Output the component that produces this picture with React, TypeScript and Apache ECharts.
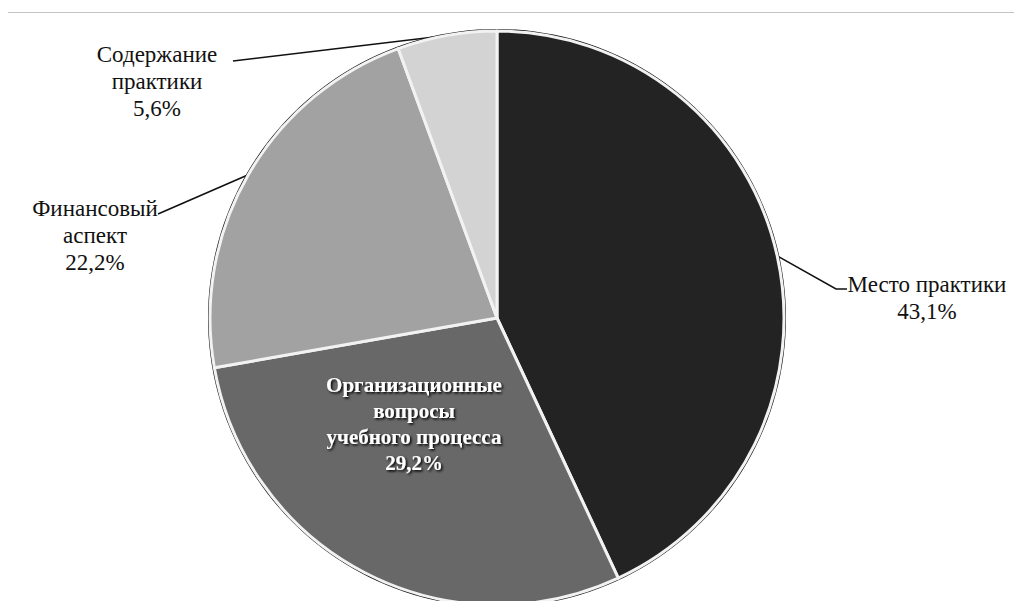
import React, { useEffect, useRef } from "react";
import * as echarts from "echarts";

const categories = [
  "Место практики",
  "Организационные\nвопросы\nучебного процесса",
  "Финансовый\nаспект",
  "Содержание\nпрактики",
];
const values = [43.1, 29.2, 22.2, 5.6];
const valueLabels = ["43,1%", "29,2%", "22,2%", "5,6%"];
const colors = ["#232323", "#686868", "#a2a2a2", "#d3d3d3"];

export default function App() {
  const ref = useRef<HTMLDivElement>(null);
  useEffect(() => {
    if (!ref.current) return;
    const chart = echarts.init(ref.current, undefined, { renderer: "svg" });
    const font = "Times New Roman, Liberation Serif, DejaVu Serif, serif";
    const layouts: any[] = [
      { x: 927, y: 271, align: "center", bend: [836, 289], end: [847, 289] },
      { x: 414, y: 424, align: "center", inside: true },
      { x: 95, y: 195, align: "center", bend: [158, 214], end: [158, 214] },
      { x: 157, y: 41, align: "center", bend: [233, 61], end: [233, 61] },
    ];
    chart.setOption({
      animation: false,
      backgroundColor: "#ffffff",
      textStyle: { fontFamily: font },
      graphic: [
        {
          type: "line",
          shape: { x1: 8, y1: 12.5, x2: 1014, y2: 12.5 },
          style: { stroke: "#c4c4c4", lineWidth: 1 },
        },
      ],
      series: [
        {
          type: "pie",
          center: [497, 318],
          radius: [0, 289],
          silent: true,
          label: { show: false },
          labelLine: { show: false },
          itemStyle: { color: "#111" },
          data: [{ value: 1, name: "rim" }],
        },
        {
          type: "pie",
          center: [497, 318],
          radius: [0, 287],
          startAngle: 90,
          clockwise: true,
          avoidLabelOverlap: false,
          itemStyle: { borderColor: "#f2f2f2", borderWidth: 3 },
          data: values.map((v, i) => ({
            value: v,
            name: categories[i],
            itemStyle: { color: colors[i] },
            label:
              i === 1
                ? {
                    show: true,
                    position: "inside",
                    formatter: categories[i] + "\n" + valueLabels[i],
                    color: "#ffffff",
                    fontFamily: font,
                    fontWeight: "bold",
                    fontSize: 21,
                    lineHeight: 26,
                    align: "center",
                    textShadowColor: "#000",
                    textShadowBlur: 2,
                    textShadowOffsetX: 1.5,
                    textShadowOffsetY: 1.5,
                  }
                : {
                    show: true,
                    position: "outside",
                    formatter: categories[i] + "\n" + valueLabels[i],
                    color: "#111",
                    fontFamily: font,
                    fontSize: 23,
                    lineHeight: 27,
                    align: "center",
                  },
            labelLine: i === 1 ? { show: false } : { show: true, lineStyle: { color: "#111", width: 1.6 } },
          })),
          labelLayout: (params: any) => {
            const l = layouts[params.dataIndex];
            if (!l) return {};
            const res: any = {
              x: l.x,
              y: l.y,
              align: l.align,
              verticalAlign: l.inside ? "middle" : "top",
            };
            if (!l.inside && params.labelLinePoints) {
              const p0 = params.labelLinePoints[0];
              res.labelLinePoints = [p0, l.bend, l.end];
            }
            return res;
          },
        },
      ],
    });
    return () => chart.dispose();
  }, []);
  return (
    <div
      ref={ref}
      style={{ position: "fixed", left: 0, top: 0, width: 1014, height: 601 }}
    />
  );
}
